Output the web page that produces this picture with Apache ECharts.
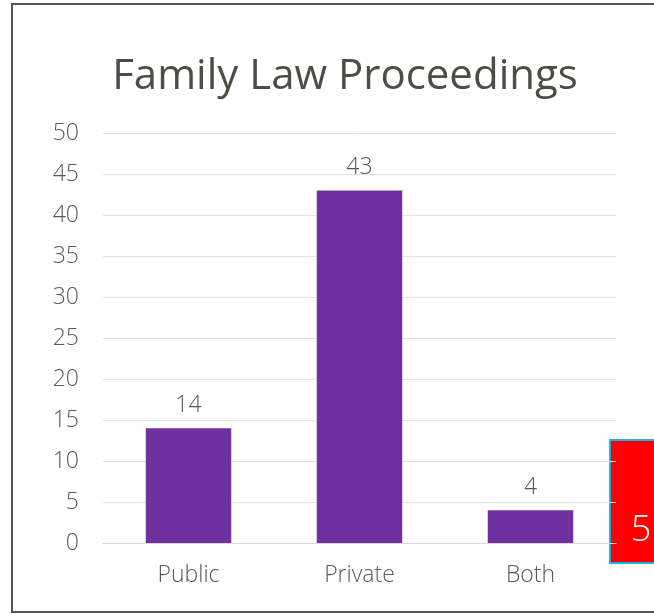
<!DOCTYPE html>
<html>
<head>
<meta charset="utf-8">
<script src="https://cdn.jsdelivr.net/npm/echarts@6/dist/echarts.min.js"></script>
<style>
	html, body { margin: 0; padding: 0; background: #fff; overflow: hidden; }
	.frame {
		position: absolute;
		left: 11px;
		top: 3px;
		width: 700px;
		height: 606px;
		border: 2px solid #555;
	}
	#bar {
		position: absolute;
		left: 0;
		top: 0;
		width: 654px;
		height: 614px;
	}
</style>
</head>
<body>
<div class="frame"></div>
<div id="bar"></div>
<script>
	var categories = ['Public', 'Private', 'Both'];
	var counts = [14, 43, 4];
	var yTicks = [0, 5, 10, 15, 20, 25, 30, 35, 40, 45, 50];

	var font = '"Open Sans", Lato, sans-serif';
	var chart = echarts.init(document.getElementById('bar'));
	chart.setOption({
		animation: false,
		title: {
			text: 'Family Law Proceedings',
			left: 340,
			textAlign: 'center',
			top: 51,
			textStyle: {
				color: '#4f4c45',
				fontSize: 42,
				fontWeight: 'normal',
				fontFamily: font
			}
		},
		grid: { left: 103, right: 38, top: 133, bottom: 71 },
		xAxis: {
			type: 'category',
			data: categories,
			axisLine: { lineStyle: { color: '#d9d9d9', width: 1 } },
			axisTick: { show: false },
			axisLabel: { color: '#595959', fontSize: 23, fontWeight: 300, fontFamily: font, margin: 21 }
		},
		yAxis: {
			type: 'value',
			min: yTicks[0],
			max: yTicks[yTicks.length - 1],
			interval: 5,
			axisLine: { show: false },
			axisTick: { show: false },
			splitLine: { lineStyle: { color: '#e3e3e3', width: 1 } },
			axisLabel: { color: '#595959', fontSize: 23, fontWeight: 300, fontFamily: font, margin: 24 }
		},
		series: [{
			type: 'bar',
			data: counts,
			barWidth: '50%',
			itemStyle: { color: '#7030a0' },
			label: {
				show: true,
				position: 'top',
				distance: 11,
				color: '#595959',
				fontSize: 23,
				fontWeight: 300,
				fontFamily: font
			}
		}],
		graphic: [{
			type: 'rect',
			shape: { x: 610, y: 440, width: 60, height: 123 },
			style: { fill: '#ff0000', stroke: '#1fb0e8', lineWidth: 2 }
		}, {
			type: 'text',
			x: 641,
			y: 531,
			style: {
				text: '5',
				fill: '#fff',
				fontSize: 36,
				fontWeight: 300,
				fontFamily: font,
				align: 'center',
				verticalAlign: 'middle'
			}
		}]
	});
</script>
</body>
</html>
